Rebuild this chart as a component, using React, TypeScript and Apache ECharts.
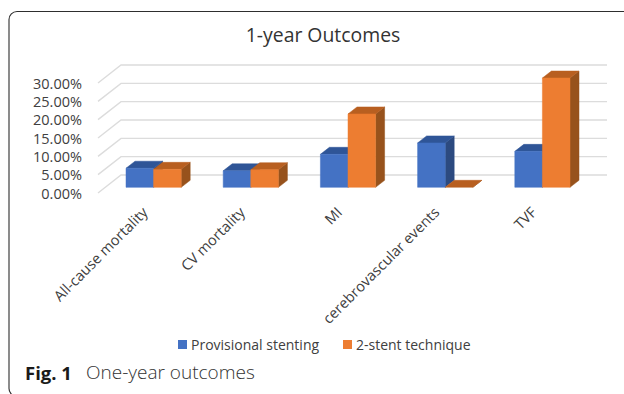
import React, { useEffect, useRef } from "react";
import * as echarts from "echarts";

const categories = ["All-cause mortality", "CV mortality", "MI", "cerebrovascular events", "TVF"];
const provisional = [5.2, 4.5, 9.0, 12.1, 9.8];
const twoStent = [4.9, 4.8, 20.0, 0.0, 29.8];
const ticks = [0, 5, 10, 15, 20, 25, 30];

const FONT = '"Open Sans", sans-serif';
const GRID_LEFT = 98;
const GRID_RIGHT = 584;
const GRID_TOP = 83;
const GRID_BOTTOM = 193;
const DEPTH_X = 23;
const DEPTH_Y = 18;
const BAR_W = 27.6;
const BAR_DX = 7;
const BAR_DY = 5.7;
const BAR_DEPTH_X = 9;
const BAR_DEPTH_Y = 7;

type Shades = { front: string; top: string; side: string };
const blue: Shades = { front: "#4472c4", top: "#2f5597", side: "#2c4a80" };
const orange: Shades = { front: "#ed7d31", top: "#b85f20", side: "#97521c" };

// Draws one box: a front face, a top face and a right side face.
const box = (shades: Shades, slot: number) => (_: any, api: any) => {
  const cat = api.value(0);
  const [cx, y0] = api.coord([cat, 0]);
  const [, y1] = api.coord([cat, api.value(1)]);
  const l = cx + BAR_DX + slot * BAR_W;
  const r = l + BAR_W;
  const b = y0 - BAR_DY;
  const t = y1 - BAR_DY;
  const dx = BAR_DEPTH_X;
  const dy = BAR_DEPTH_Y;
  const face = (points: number[][], fill: string) => ({
    type: "polygon",
    shape: { points },
    style: { fill, stroke: fill, lineWidth: 0.5 },
  });
  return {
    type: "group",
    children: [
      face([[r, b], [r + dx, b - dy], [r + dx, t - dy], [r, t]], shades.side),
      face([[l, t], [r, t], [r + dx, t - dy], [l + dx, t - dy]], shades.top),
      ...(b - t > 0.5 ? [face([[l, b], [r, b], [r, t], [l, t]], shades.front)] : []),
    ],
  };
};

// Back wall gridlines with the short receding strokes at their left ends.
const wall = (_: any, api: any) => {
  const [, y] = api.coord([0, api.value(0)]);
  return {
    type: "polyline",
    shape: {
      points: [
        [GRID_LEFT, y],
        [GRID_LEFT + DEPTH_X, y - DEPTH_Y],
        [GRID_RIGHT + DEPTH_X, y - DEPTH_Y],
      ],
    },
    style: { fill: "none", stroke: "#dcdcdc", lineWidth: 1.4 },
  };
};

export default function App() {
  const ref = useRef<HTMLDivElement>(null);

  useEffect(() => {
    const chart = echarts.init(ref.current!, undefined, { renderer: "svg" });
    chart.setOption({
      animation: false,
      backgroundColor: "#ffffff",
      title: {
        text: "1-year Outcomes",
        left: 318,
        top: 20,
        textAlign: "center",
        textStyle: { fontFamily: FONT, fontSize: 19.4, fontWeight: 400, color: "#333333" },
      },
      grid: {
        left: GRID_LEFT,
        top: GRID_TOP,
        width: GRID_RIGHT - GRID_LEFT,
        height: GRID_BOTTOM - GRID_TOP,
        containLabel: false,
      },
      xAxis: {
        type: "category",
        data: categories,
        axisLine: { show: false },
        axisTick: { show: false },
        axisLabel: {
          interval: 0,
          rotate: 45,
          margin: 14,
          padding: [0, 3, 0, 0],
          fontFamily: FONT,
          fontSize: 14.6,
          color: "#404040",
        },
      },
      yAxis: {
        type: "value",
        min: 0,
        max: 30,
        interval: 5,
        axisLine: { show: false },
        axisTick: { show: false },
        splitLine: { show: false },
        axisLabel: {
          margin: 16,
          padding: [2, 0, 0, 0],
          fontFamily: FONT,
          fontSize: 14.5,
          color: "#404040",
          formatter: (v: number) => v.toFixed(2) + "%",
        },
      },
      legend: { show: false },
      series: [
        {
          type: "custom",
          name: "wall",
          coordinateSystem: "cartesian2d",
          encode: { y: 0 },
          data: ticks.map((t) => [t]),
          renderItem: wall,
          silent: true,
          z: 1,
        },
        {
          type: "custom",
          name: "Provisional stenting",
          data: provisional.map((v, i) => [i, v]),
          encode: { x: 0, y: 1 },
          renderItem: box(blue, -1),
          z: 2,
        },
        {
          type: "custom",
          name: "2-stent technique",
          data: twoStent.map((v, i) => [i, v]),
          encode: { x: 0, y: 1 },
          renderItem: box(orange, 0),
          z: 3,
        },
      ],
      graphic: [
        {
          type: "rect",
          shape: { x: 9, y: 11.5, width: 720, height: 385, r: 8 },
          style: { fill: "none", stroke: "#2e2e2e", lineWidth: 1.1 },
          silent: true,
        },
        { type: "rect", shape: { x: 178, y: 340, width: 9, height: 9 }, style: { fill: blue.front } },
        { type: "text", x: 191, y: 344.5, style: { text: "Provisional stenting", font: `14px ${FONT}`, fill: "#404040", verticalAlign: "middle" } },
        { type: "rect", shape: { x: 343, y: 340, width: 9, height: 9 }, style: { fill: orange.front } },
        { type: "text", x: 356, y: 344.5, style: { text: "2-stent technique", font: `14px ${FONT}`, fill: "#404040", verticalAlign: "middle" } },
        { type: "text", x: 25, y: 372, style: { text: "Fig. 1", font: `bold 18.5px ${FONT}`, fill: "#1a1a1a", verticalAlign: "middle" } },
        { type: "text", x: 86, y: 372, style: { text: "One-year outcomes", font: `300 19px ${FONT}`, fill: "#333333", verticalAlign: "middle" } },
      ],
    });
    return () => chart.dispose();
  }, []);

  return <div ref={ref} style={{ position: "fixed", left: 0, top: 0, width: 624, height: 394 }} />;
}
